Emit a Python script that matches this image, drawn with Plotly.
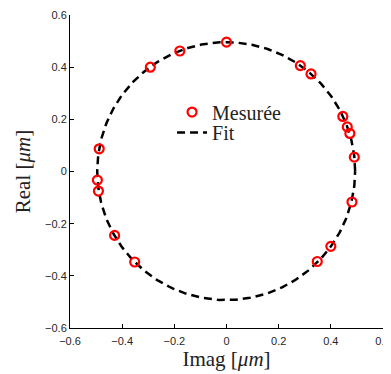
import numpy as np
import plotly.graph_objects as go

# Measured points (Imag, Real) in µm
imag_meas = [-0.292, -0.179, -0.488, -0.495, -0.491, -0.429, -0.352, 0.000, 0.283,
             0.324, 0.446, 0.463, 0.473, 0.490, 0.481, 0.400, 0.348]
real_meas = [0.400, 0.462, 0.087, -0.033, -0.075, -0.245, -0.347, 0.496, 0.406,
             0.374, 0.211, 0.171, 0.146, 0.055, -0.117, -0.287, -0.345]

tick_vals = [-0.6, -0.4, -0.2, 0, 0.2, 0.4, 0.6]
tick_text = ["\u22120.6", "\u22120.4", "\u22120.2", "0", "0.2", "0.4", "0.6"]

# least-squares circle fit (Kasa)
xm = np.array(imag_meas)
ym = np.array(real_meas)
A = np.column_stack([xm, ym, np.ones_like(xm)])
b = xm**2 + ym**2
c = np.linalg.lstsq(A, b, rcond=None)[0]
xc, yc = c[0] / 2, c[1] / 2
r = np.sqrt(c[2] + xc**2 + yc**2)
t = np.linspace(0, 2 * np.pi, 400)
fit_x = xc + r * np.cos(t)
fit_y = yc + r * np.sin(t)

SERIF = "Liberation Serif"
leg_font = {"family": SERIF, "size": 20, "color": "#222"}

fig = go.Figure()
fig.add_scatter(
    x=fit_x, y=fit_y, mode="lines", name="Fit", legend="legend2", showlegend=True,
    line={"color": "black", "width": 2.5, "dash": "8px,5px"},
)
fig.add_scatter(
    x=imag_meas, y=real_meas, mode="markers", name="Mesurée", legend="legend", showlegend=True,
    marker={"symbol": "circle-open", "size": 9, "color": "red", "line": {"width": 2.2, "color": "red"}},
)

axis_common = dict(
    range=[-0.6, 0.6],
    tickvals=tick_vals,
    ticktext=tick_text,
    ticks="inside",
    ticklen=4,
    tickcolor="black",
    showline=True,
    linecolor="black",
    linewidth=1,
    showgrid=False,
    zeroline=False,
    mirror=False,
    automargin=False,
    tickfont={"family": "Liberation Sans", "size": 11, "color": "#262626"},
)

# the page body adds ~8px offset, so the figure is a bit smaller than the window
(
    fig.update_xaxes(
        **axis_common,
        ticklabelstandoff=3,
        title={"text": "Imag [<i>μm</i>]", "font": {"family": SERIF, "size": 21, "color": "#222"}, "standoff": 2},
    )
    .update_yaxes(
        **axis_common,
        title={"text": "Real [<i>μm</i>]", "font": {"family": SERIF, "size": 21, "color": "#222"}, "standoff": 8},
    )
    .update_layout(
        width=383,
        height=366,
        margin={"l": 62, "r": 8, "t": 7, "b": 46},
        plot_bgcolor="white",
        paper_bgcolor="white",
        showlegend=True,
        legend={
            "x": 0.326, "y": 0.690, "xanchor": "left", "yanchor": "middle",
            "font": leg_font, "bgcolor": "rgba(0,0,0,0)", "itemwidth": 30,
        },
        legend2={
            "x": 0.326, "y": 0.625, "xanchor": "left", "yanchor": "middle",
            "font": leg_font, "bgcolor": "rgba(0,0,0,0)", "itemwidth": 30,
        },
    )
)

fig.write_html("out.html")
